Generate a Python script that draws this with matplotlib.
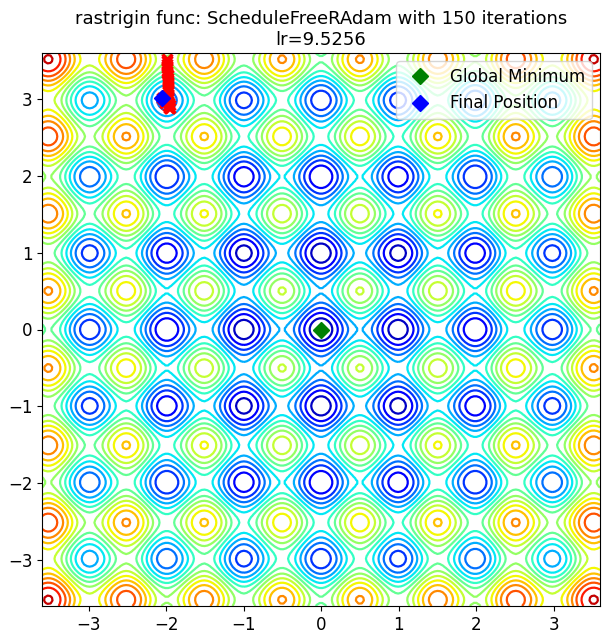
import numpy as np
import matplotlib
matplotlib.use("Agg")
import matplotlib.pyplot as plt

optimizer_name = "ScheduleFreeRAdam"
n_iter = 150
lr = 9.5256
minimum = (0.0, 0.0)

# trajectory (dense markers form a thick red bar)
path_x = [-1.99, -1.99, -1.99, -1.99, -1.99, -1.99, -1.99, -1.98, -1.98, -1.98,
          -1.98, -1.98, -1.98, -1.98, -1.98, -1.98, -1.97, -1.97, -1.97, -1.96,
          -1.95, -1.95, -1.96, -1.98, -2.01, -2.03, -2.05]
path_y = [3.52, 3.49, 3.46, 3.43, 3.40, 3.37, 3.34, 3.31, 3.28, 3.25,
          3.22, 3.19, 3.16, 3.13, 3.10, 3.07, 3.04, 3.01, 2.98, 2.95,
          2.92, 2.89, 2.88, 2.91, 2.95, 2.99, 3.02]

lim = 3.6


def rastrigin(x, y, a=10):
    return 2 * a + (x ** 2 - a * np.cos(2 * np.pi * x)) + (y ** 2 - a * np.cos(2 * np.pi * y))


x = np.linspace(-lim, lim, 200)
y = np.linspace(-lim, lim, 200)
X, Y = np.meshgrid(x, y)
Z = rastrigin(X, Y)

fig = plt.figure(figsize=(6.06, 6.43), dpi=100)
ax = fig.add_axes([42 / 606, 1 - 606 / 643, 558 / 606, 553 / 643])
ax.contour(X, Y, Z, 20, cmap="jet", linewidths=1.6)
ax.plot(path_x, path_y, color="r", marker="x", lw=3, markersize=7, markeredgewidth=2.5)
ax.plot(*minimum, "D", color="green", markersize=8, label="Global Minimum")
ax.plot(path_x[-1], path_y[-1], "D", color="blue", markersize=8, label="Final Position")
ax.set_xlim(-lim, lim)
ax.set_ylim(-lim, lim)
ax.set_title(f"rastrigin func: {optimizer_name} with {n_iter} iterations\nlr={lr}", fontsize=13)
ax.tick_params(labelsize=12)
ax.legend(loc="upper right", fontsize=12)
fig.savefig("out.png", dpi=100)
